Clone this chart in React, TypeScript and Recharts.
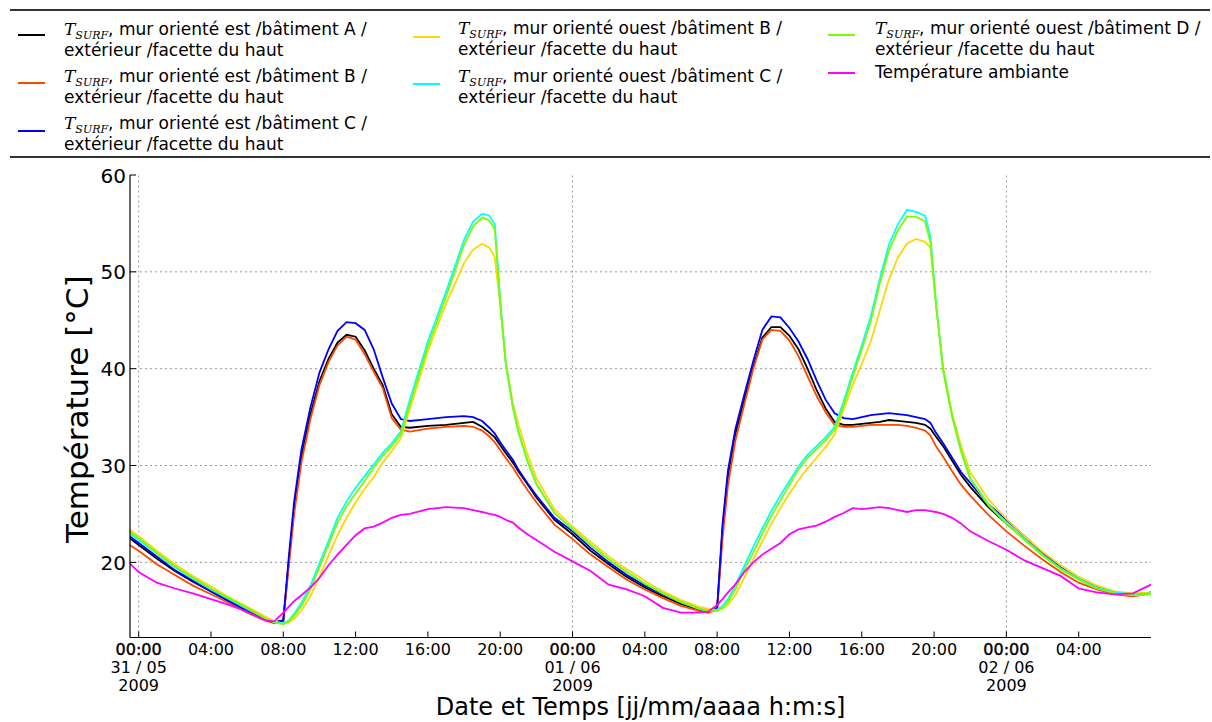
import React from 'react';
import { LineChart, Line, XAxis, YAxis, ReferenceLine, Label } from 'recharts';

// hours since 31/05/2009 00:00
const hours = [
  -0.5, 0, 1, 2, 3, 4, 5, 6, 7, 7.5,
  8, 8.3, 8.6, 9, 9.5, 10, 10.5, 11, 11.5, 12,
  12.5, 13, 13.5, 14, 14.5, 15, 16, 17, 18, 18.5,
  19, 19.4, 19.7, 20, 20.3, 20.7, 21, 21.5, 22, 23,
  24, 25, 26, 27, 28, 29, 30, 31, 31.5, 32,
  32.3, 32.6, 33, 33.5, 34, 34.5, 35, 35.5, 36, 36.5,
  37, 37.5, 38, 38.5, 39, 39.5, 40, 40.5, 41, 41.5,
  42, 42.5, 43, 43.5, 43.8, 44.1, 44.5, 45, 45.5, 46,
  47, 48, 49, 50, 51, 52, 53, 54, 55, 56,
];

// T_SURF mur est, bâtiment A
const estA = [
  22.5, 21.8, 20.4, 19.1, 18.0, 17.0, 16.0, 15.0, 14.1, 13.8,
  14.0, 20.0, 25.6, 30.9, 35.3, 38.7, 41.0, 42.7, 43.5, 43.3,
  41.9, 40.0, 38.3, 35.3, 34.0, 33.9, 34.1, 34.2, 34.4, 34.5,
  34.0, 33.4, 32.9, 32.1, 31.3, 30.3, 29.4, 28.1, 26.7, 24.4,
  22.9, 21.2, 19.8, 18.5, 17.4, 16.5, 15.7, 15.1, 14.9, 15.2,
  23.5, 29.0, 33.2, 36.8, 40.2, 43.2, 44.3, 44.3, 43.4, 42.0,
  40.0, 37.8, 35.9, 34.5, 34.2, 34.2, 34.3, 34.4, 34.5, 34.7,
  34.6, 34.5, 34.4, 34.2, 33.8, 33.0, 32.0, 30.5, 29.0, 27.8,
  25.7, 24.0, 22.4, 20.8, 19.4, 18.3, 17.5, 16.9, 16.6, 16.8,
];

// T_SURF mur est, bâtiment B
const estB = [
  21.8, 21.2, 19.8, 18.7, 17.6, 16.7, 15.8, 14.8, 14.0, 13.7,
  13.9, 19.5, 25.0, 30.3, 34.8, 38.3, 40.7, 42.4, 43.3, 43.0,
  41.5, 39.7, 38.0, 34.9, 33.7, 33.5, 33.8, 34.0, 34.1, 34.0,
  33.6, 33.0, 32.4, 31.6, 30.8, 29.8, 28.9, 27.5, 26.2, 23.9,
  22.4, 20.8, 19.5, 18.2, 17.2, 16.3, 15.5, 15.0, 14.8, 15.1,
  22.5, 28.0, 32.5, 36.3, 40.0, 43.0, 44.0, 43.9, 42.9, 41.3,
  39.2, 37.2, 35.5, 34.2, 34.0, 34.0, 34.1, 34.2, 34.2, 34.2,
  34.2, 34.1, 33.9, 33.6, 33.1, 32.0, 30.9, 29.4, 28.0, 26.9,
  24.9, 23.2, 21.7, 20.3, 19.0, 17.9, 17.2, 16.7, 16.5, 16.8,
];

// T_SURF mur est, bâtiment C
const estC = [
  22.7, 22.0, 20.6, 19.2, 18.1, 17.0, 16.0, 15.0, 14.1, 13.8,
  14.0, 20.5, 26.3, 31.6, 36.0, 39.6, 42.0, 43.9, 44.8, 44.7,
  44.0, 42.0, 39.1, 36.4, 34.8, 34.6, 34.8, 35.0, 35.1, 35.0,
  34.6, 33.9, 33.3, 32.4, 31.6, 30.6, 29.6, 28.2, 26.9, 24.6,
  23.2, 21.5, 20.0, 18.7, 17.6, 16.7, 15.9, 15.2, 15.0, 15.3,
  24.0, 29.5, 33.7, 37.3, 40.8, 44.0, 45.4, 45.3, 44.2, 42.8,
  41.0, 38.8, 36.8, 35.4, 34.9, 34.8, 35.0, 35.2, 35.3, 35.4,
  35.3, 35.2, 35.0, 34.8, 34.4, 33.4, 32.3, 30.8, 29.3, 28.2,
  26.0, 24.4, 22.7, 21.0, 19.5, 18.3, 17.4, 16.9, 16.6, 16.9,
];

// T_SURF mur ouest, bâtiment B
const ouestB = [
  23.4, 22.7, 21.2, 19.8, 18.6, 17.5, 16.4, 15.4, 14.4, 13.9,
  13.7, 13.8, 14.2, 15.0, 16.5, 18.5, 20.7, 22.8, 24.6, 26.2,
  27.6, 28.8, 30.3, 31.5, 32.8, 35.8, 41.8, 46.7, 50.9, 52.3,
  52.9, 52.5, 51.5, 46.5, 40.8, 36.4, 34.3, 31.2, 28.7, 25.5,
  23.7, 22.1, 20.6, 19.3, 18.1, 17.0, 16.1, 15.4, 15.2, 15.1,
  15.2, 15.6, 16.6, 18.4, 20.3, 22.2, 24.0, 25.6, 27.1, 28.5,
  29.7, 30.8, 31.9, 33.2, 35.8, 38.3, 40.5, 42.8, 46.0, 49.2,
  51.5, 52.9, 53.4, 53.1, 52.5, 46.7, 40.2, 35.4, 32.0, 29.3,
  26.5, 24.5, 22.7, 21.1, 19.7, 18.5, 17.6, 17.0, 16.8, 16.9,
];

// T_SURF mur ouest, bâtiment C
const ouestC = [
  23.0, 22.3, 20.9, 19.5, 18.3, 17.2, 16.2, 15.2, 14.2, 13.8,
  13.7, 14.0, 14.7, 15.8, 17.6, 19.9, 22.2, 24.6, 26.3, 27.7,
  28.9, 30.1, 31.3, 32.3, 33.5, 36.8, 42.8, 47.9, 53.3, 55.2,
  56.0, 55.8, 54.9, 47.0, 40.7, 36.0, 33.5, 30.5, 28.1, 25.1,
  23.4, 21.8, 20.3, 19.0, 17.8, 16.8, 15.9, 15.2, 15.0, 15.1,
  15.5, 16.2, 17.6, 19.6, 21.6, 23.5, 25.3, 26.9, 28.4, 29.9,
  31.1, 32.0, 32.9, 34.0, 36.6, 39.6, 42.4, 45.4, 49.3, 52.8,
  54.9, 56.4, 56.2, 55.8, 53.6, 46.9, 39.9, 35.1, 31.5, 28.7,
  26.0, 24.1, 22.4, 20.8, 19.4, 18.3, 17.4, 16.9, 16.7, 16.8,
];

// T_SURF mur ouest, bâtiment D
const ouestD = [
  23.2, 22.5, 21.0, 19.6, 18.4, 17.3, 16.3, 15.3, 14.2, 13.8,
  13.6, 13.9, 14.5, 15.5, 17.2, 19.5, 21.8, 24.1, 25.8, 27.1,
  28.4, 29.8, 31.0, 32.0, 33.2, 36.3, 42.3, 47.4, 52.8, 54.7,
  55.6, 55.3, 54.4, 46.8, 40.6, 36.0, 33.5, 30.5, 28.1, 25.1,
  23.4, 21.8, 20.3, 19.0, 17.8, 16.8, 15.9, 15.2, 15.0, 15.0,
  15.3, 15.9, 17.2, 19.2, 21.0, 23.0, 24.8, 26.4, 28.0, 29.6,
  30.8, 31.7, 32.6, 33.7, 36.2, 39.2, 42.0, 44.9, 48.8, 52.2,
  54.3, 55.7, 55.7, 55.2, 53.0, 46.7, 39.8, 35.0, 31.4, 28.6,
  25.9, 24.0, 22.3, 20.7, 19.3, 18.2, 17.3, 16.8, 16.6, 16.7,
];

// température ambiante
const ambiante = [
  19.9, 19.0, 17.9, 17.3, 16.8, 16.2, 15.6, 14.9, 14.0, 13.9,
  14.8, 15.4, 16.0, 16.6, 17.4, 18.4, 19.7, 20.8, 21.8, 22.8,
  23.5, 23.7, 24.1, 24.6, 24.9, 25.0, 25.5, 25.7, 25.6, 25.4,
  25.2, 25.0, 24.9, 24.7, 24.4, 24.1, 23.6, 22.9, 22.3, 21.1,
  20.1, 19.1, 17.7, 17.2, 16.5, 15.3, 14.8, 14.8, 14.9, 15.6,
  16.2, 16.9, 17.7, 19.0, 20.0, 20.8, 21.4, 22.0, 22.9, 23.4,
  23.6, 23.8, 24.2, 24.7, 25.1, 25.6, 25.5, 25.6, 25.7, 25.6,
  25.4, 25.2, 25.4, 25.4, 25.3, 25.2, 25.0, 24.6, 24.0, 23.2,
  22.2, 21.3, 20.2, 19.4, 18.6, 17.3, 16.9, 16.7, 16.8, 17.7,
];

const xTicks = [0, 4, 8, 12, 16, 20, 24, 28, 32, 36, 40, 44, 48, 52];
const xTickLabels = [
  '00:00', '04:00', '08:00', '12:00', '16:00', '20:00',
  '00:00', '04:00', '08:00', '12:00', '16:00', '20:00',
  '00:00', '04:00',
];
const dayTicks = [0, 24, 48];
const dayLabels = ['31 / 05', '01 / 06', '02 / 06'];
const yearLabels = ['2009', '2009', '2009'];
const yTicks = [20, 30, 40, 50, 60];
const yGrid = [20, 30, 40, 50];

const series = [
  { key: 'estA', orient: 'est', bat: 'A', color: '#000000' },
  { key: 'estB', orient: 'est', bat: 'B', color: '#ff4500' },
  { key: 'estC', orient: 'est', bat: 'C', color: '#0000ff' },
  { key: 'ouestB', orient: 'ouest', bat: 'B', color: '#ffd700' },
  { key: 'ouestC', orient: 'ouest', bat: 'C', color: '#00ffff' },
  { key: 'ouestD', orient: 'ouest', bat: 'D', color: '#7cfc00' },
  { key: 'ambiante', orient: '', bat: '', color: '#ff00ff' },
];

const data = hours.map((t, i) => ({
  t,
  estA: estA[i],
  estB: estB[i],
  estC: estC[i],
  ouestB: ouestB[i],
  ouestC: ouestC[i],
  ouestD: ouestD[i],
  ambiante: ambiante[i],
}));

const FONT = '"DejaVu Sans", sans-serif';
const X_DOMAIN: [number, number] = [-0.48, 56];
const Y_DOMAIN: [number, number] = [12.24, 60];

function BottomTick(props: any) {
  const { x, y, payload } = props;
  const i = xTicks.indexOf(payload.value);
  const d = dayTicks.indexOf(payload.value);
  const major = d >= 0;
  return (
    <g>
      <line x1={x} y1={y} x2={x} y2={y - 6} stroke="#000" strokeWidth={1} />
      <text
        x={x}
        y={y + 17}
        textAnchor="middle"
        fontSize={16}
        fontFamily={FONT}
        fill="#000"
        stroke={major ? '#000' : 'none'}
        strokeWidth={0.4}
      >
        {xTickLabels[i]}
      </text>
      {major && (
        <>
          <text x={x} y={y + 35} textAnchor="middle" fontSize={16} fontFamily={FONT} fill="#000">
            {dayLabels[d]}
          </text>
          <text x={x} y={y + 53} textAnchor="middle" fontSize={16} fontFamily={FONT} fill="#000">
            {yearLabels[d]}
          </text>
        </>
      )}
    </g>
  );
}

function TopTick(props: any) {
  const { x, y } = props;
  return <line x1={x} y1={y} x2={x} y2={y + 6} stroke="#000" strokeWidth={1} />;
}

function LeftTick(props: any) {
  const { x, y, payload } = props;
  return (
    <g>
      <line x1={x} y1={y} x2={x + 6} y2={y} stroke="#000" strokeWidth={1} />
      <text x={x - 4} y={y + 7.5} textAnchor="end" fontSize={20} fontFamily={FONT} fill="#000">
        {payload.value}
      </text>
    </g>
  );
}

function RightTick(props: any) {
  const { x, y } = props;
  return <line x1={x} y1={y} x2={x - 6} y2={y} stroke="#000" strokeWidth={1} />;
}

function XTitle(props: any) {
  const vb = props.viewBox;
  return (
    <text x={vb.x + vb.width / 2} y={vb.y + 77} textAnchor="middle" fontSize={24} fontFamily={FONT} fill="#000">
      Date et Temps [jj/mm/aaaa h:m:s]
    </text>
  );
}

function YTitle(props: any) {
  const vb = props.viewBox;
  const cx = vb.x + 88;
  const cy = vb.y + vb.height / 2 + 3;
  return (
    <text
      x={cx}
      y={cy}
      transform={`rotate(-90, ${cx}, ${cy})`}
      textAnchor="middle"
      fontSize={31}
      fontFamily={FONT}
      fill="#000"
    >
      Température [°C]
    </text>
  );
}

// legend slots: swatch x, text x, first text line centre, swatch y
const legendPos = [
  { sx: 18, tx: 64, ty: 29, sy: 35 },
  { sx: 18, tx: 64, ty: 76.5, sy: 83 },
  { sx: 18, tx: 64, ty: 123.5, sy: 131 },
  { sx: 413, tx: 458, ty: 28.5, sy: 37 },
  { sx: 413, tx: 458, ty: 76, sy: 84 },
  { sx: 828, tx: 875, ty: 28.5, sy: 35 },
  { sx: 828, tx: 875, ty: 72.7, sy: 73 },
];

function LegendBox() {
  return (
    <div style={{ position: 'absolute', left: 0, top: 0, width: 1212, height: 160, fontFamily: FONT, fontSize: 17, color: '#000' }}>
      <div style={{ position: 'absolute', left: 10, top: 9, width: 1200, height: 1.5, background: '#333' }} />
      <div style={{ position: 'absolute', left: 10, top: 156, width: 1200, height: 1.5, background: '#333' }} />
      {series.map((s, i) => {
        const p = legendPos[i];
        return (
          <React.Fragment key={s.key}>
            <div style={{ position: 'absolute', left: p.sx, top: p.sy - 1, width: 27, height: 2, background: s.color }} />
            <div style={{ position: 'absolute', left: p.tx, top: p.ty - 9.5, lineHeight: '19px', whiteSpace: 'nowrap' }}>
              {s.orient ? (
                <>
                  <span style={{ fontFamily: '"DejaVu Serif", serif', fontStyle: 'italic' }}>T</span>
                  <span style={{ fontFamily: '"DejaVu Serif", serif', fontStyle: 'italic', fontSize: 11, position: 'relative', top: 4 }}>
                    SURF
                  </span>
                  {`, mur orienté ${s.orient} /bâtiment ${s.bat} /`}
                  <br />
                  extérieur /facette du haut
                </>
              ) : (
                'Température ambiante'
              )}
            </div>
          </React.Fragment>
        );
      })}
    </div>
  );
}

export default function App() {
  return (
    <div style={{ position: 'absolute', left: 0, top: 0, width: 1212, height: 722, background: '#fff' }}>
      <LineChart width={1212} height={722} data={data} margin={{ top: 175, right: 61, bottom: 0, left: 0 }}>
        <XAxis
          dataKey="t"
          type="number"
          domain={X_DOMAIN}
          allowDataOverflow
          ticks={xTicks}
          interval={0}
          height={84.5}
          tickSize={0}
          tickMargin={0}
          tickLine={false}
          tick={<BottomTick />}
          axisLine={{ stroke: '#000', strokeWidth: 1.2 }}
        >
          <Label content={<XTitle />} />
        </XAxis>
        <XAxis
          xAxisId="top"
          orientation="top"
          dataKey="t"
          type="number"
          domain={X_DOMAIN}
          allowDataOverflow
          ticks={xTicks}
          interval={0}
          height={0}
          tickSize={0}
          tickMargin={0}
          tickLine={false}
          tick={<TopTick />}
          axisLine={{ stroke: '#000', strokeWidth: 1.2 }}
        />
        <YAxis
          type="number"
          domain={Y_DOMAIN}
          allowDataOverflow
          ticks={yTicks}
          interval={0}
          width={130}
          tickSize={0}
          tickMargin={0}
          tickLine={false}
          tick={<LeftTick />}
          axisLine={{ stroke: '#000', strokeWidth: 1.2 }}
        >
          <Label content={<YTitle />} />
        </YAxis>
        <YAxis
          yAxisId="right"
          orientation="right"
          type="number"
          domain={Y_DOMAIN}
          allowDataOverflow
          ticks={yTicks}
          interval={0}
          width={0}
          tickSize={0}
          tickMargin={0}
          tickLine={false}
          tick={<RightTick />}
          axisLine={{ stroke: '#000', strokeWidth: 1.2 }}
        />
        {yGrid.map((v) => (
          <ReferenceLine key={`gy${v}`} y={v} stroke="#999" strokeDasharray="2 3" strokeWidth={1} />
        ))}
        {dayTicks.map((v) => (
          <ReferenceLine key={`gx${v}`} x={v} stroke="#999" strokeDasharray="2 3" strokeWidth={1} />
        ))}
        {series.map((s) => (
          <Line
            key={s.key}
            dataKey={s.key}
            type="linear"
            stroke={s.color}
            strokeWidth={1.8}
            dot={false}
            activeDot={false}
            isAnimationActive={false}
          />
        ))}
      </LineChart>
      <LegendBox />
    </div>
  );
}
